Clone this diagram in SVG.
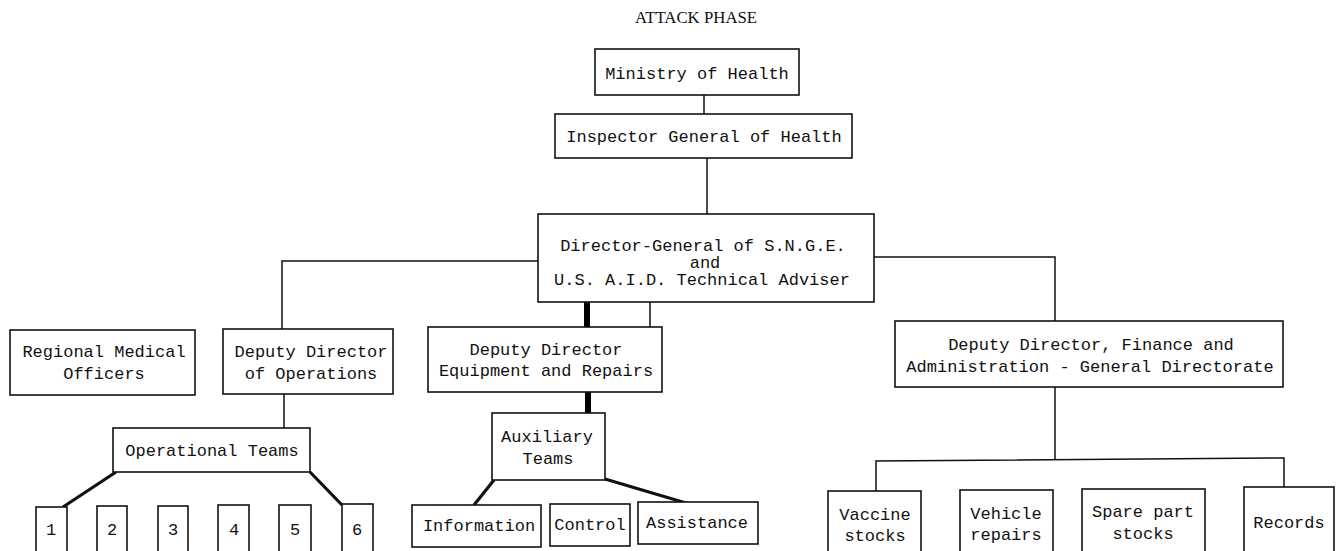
<svg xmlns="http://www.w3.org/2000/svg" width="1337" height="551" viewBox="0 0 1337 551">
<style>
.box{fill:#fff;stroke:#111;stroke-width:1.6}
.t{font-family:"Liberation Mono","DejaVu Sans Mono",monospace;font-size:17px;fill:#111;text-anchor:middle}
.title{font-family:"Liberation Serif","DejaVu Serif",serif;font-size:16.8px;fill:#111;text-anchor:middle}
.c{fill:none;stroke:#111;stroke-width:1.5}
.thick{fill:none;stroke:#111;stroke-width:3.2}
.bar{fill:none;stroke:#000;stroke-width:6}
</style>
<rect width="1337" height="551" fill="#fff"/>
<text class="title" x="696" y="23">ATTACK PHASE</text>
<g id="connectors">
<line class="c" x1="704" y1="95" x2="704" y2="114"/>
<line class="c" x1="707" y1="158" x2="707" y2="214"/>
<polyline class="c" points="538,261 282,261 282,329"/>
<polyline class="c" points="874,257 1055,257 1055,321"/>
<line class="bar" x1="587" y1="302" x2="587" y2="327"/>
<line class="c" x1="650" y1="302" x2="650" y2="327"/>
<line class="c" x1="284" y1="394" x2="284" y2="428"/>
<line class="thick" x1="116" y1="472" x2="63" y2="507"/>
<line class="thick" x1="310" y1="472" x2="342" y2="505"/>
<line class="bar" x1="588" y1="392" x2="588" y2="413"/>
<line class="thick" x1="494" y1="480" x2="474" y2="505"/>
<line class="thick" x1="605" y1="479" x2="686" y2="503"/>
<line class="c" x1="1055" y1="387" x2="1055" y2="460"/>
<polyline class="c" points="876,491 876,461 1284,458 1284,487"/>
</g>
<g id="ministry"><rect class="box" x="595" y="49" width="204" height="46"/><text class="t" x="697" y="79">Ministry of Health</text></g>
<g id="inspector"><rect class="box" x="555" y="114" width="297" height="44"/><text class="t" x="704" y="142">Inspector General of Health</text></g>
<g id="director-general"><rect class="box" x="538" y="214" width="336" height="88"/>
<text class="t" x="703" y="251">Director-General of S.N.G.E.</text>
<text class="t" x="705" y="268">and</text>
<text class="t" x="702" y="285">U.S. A.I.D. Technical Adviser</text></g>
<g id="regional"><rect class="box" x="10" y="330" width="185" height="65"/>
<text class="t" x="104" y="357">Regional Medical</text><text class="t" x="104" y="379">Officers</text></g>
<g id="dd-operations"><rect class="box" x="223" y="329" width="170" height="65"/>
<text class="t" x="311" y="357">Deputy Director</text><text class="t" x="311" y="379">of Operations</text></g>
<g id="dd-equipment"><rect class="box" x="428" y="327" width="234" height="65"/>
<text class="t" x="546" y="355">Deputy Director</text><text class="t" x="546" y="376">Equipment and Repairs</text></g>
<g id="dd-finance"><rect class="box" x="895" y="321" width="388" height="66"/>
<text class="t" x="1091" y="350">Deputy Director, Finance and</text><text class="t" x="1090" y="372">Administration - General Directorate</text></g>
<g id="operational-teams"><rect class="box" x="113" y="428" width="197" height="44"/><text class="t" x="212" y="456">Operational Teams</text></g>
<g id="team-1"><rect class="box" x="36" y="507" width="31" height="60"/><text class="t" x="51" y="535">1</text></g>
<g id="team-2"><rect class="box" x="97" y="506" width="30" height="60"/><text class="t" x="112" y="535">2</text></g>
<g id="team-3"><rect class="box" x="158" y="506" width="30" height="60"/><text class="t" x="173" y="535">3</text></g>
<g id="team-4"><rect class="box" x="218" y="505" width="31" height="60"/><text class="t" x="234" y="535">4</text></g>
<g id="team-5"><rect class="box" x="279" y="505" width="32" height="60"/><text class="t" x="295" y="535">5</text></g>
<g id="team-6"><rect class="box" x="342" y="504" width="31" height="60"/><text class="t" x="357" y="535">6</text></g>
<g id="auxiliary-teams"><rect class="box" x="492" y="413" width="113" height="67"/>
<text class="t" x="547" y="442">Auxiliary</text><text class="t" x="548" y="464">Teams</text></g>
<g id="information"><rect class="box" x="412" y="505" width="129" height="42"/><text class="t" x="479" y="531">Information</text></g>
<g id="control"><rect class="box" x="550" y="504" width="80" height="42"/><text class="t" x="590" y="530">Control</text></g>
<g id="assistance"><rect class="box" x="638" y="502" width="120" height="42"/><text class="t" x="697" y="528">Assistance</text></g>
<g id="vaccine"><rect class="box" x="828" y="491" width="93" height="80"/>
<text class="t" x="875" y="520">Vaccine</text><text class="t" x="875" y="541">stocks</text></g>
<g id="vehicle"><rect class="box" x="960" y="490" width="93" height="80"/>
<text class="t" x="1006" y="519">Vehicle</text><text class="t" x="1006" y="540">repairs</text></g>
<g id="spare"><rect class="box" x="1082" y="489" width="123" height="80"/>
<text class="t" x="1143" y="517">Spare part</text><text class="t" x="1143" y="539">stocks</text></g>
<g id="records"><rect class="box" x="1244" y="487" width="90" height="80"/><text class="t" x="1289" y="528">Records</text></g>
</svg>
